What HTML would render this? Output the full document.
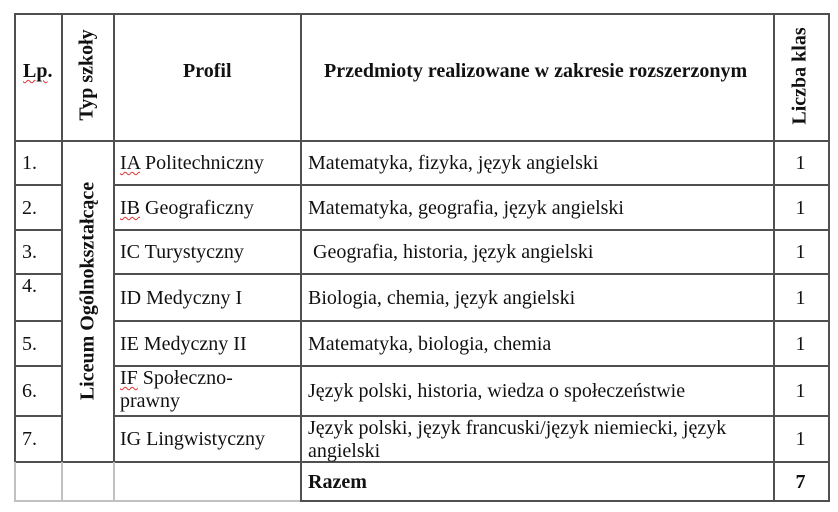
<!DOCTYPE html>
<html><head><meta charset="utf-8"><style>
body{margin:0;background:#fff;width:838px;height:512px;overflow:hidden;position:relative;font-family:"Liberation Serif",serif;font-size:20px;color:#111}
.h{position:absolute;height:2px;background:#505050}
.v{position:absolute;width:2px;background:#505050}
.lg{background:#c0c0c0}
.t{position:absolute;white-space:nowrap;line-height:22px}
.b{font-weight:bold}
.r{position:absolute;transform:translate(-50%,-50%) rotate(-90deg);white-space:nowrap;font-weight:bold}
.sq{text-decoration:underline wavy #d33;text-decoration-thickness:1px;text-underline-offset:2px}
.c{position:absolute;width:55px;text-align:center;left:773px;line-height:22px}
</style></head><body>
<div class="h" style="left:14px;top:13px;width:816px"></div>
<div class="h" style="left:14px;top:140px;width:816px"></div>
<div class="h" style="left:14px;top:184px;width:48px"></div>
<div class="h" style="left:113px;top:184px;width:717px"></div>
<div class="h" style="left:14px;top:229px;width:48px"></div>
<div class="h" style="left:113px;top:229px;width:717px"></div>
<div class="h" style="left:14px;top:273px;width:48px"></div>
<div class="h" style="left:113px;top:273px;width:717px"></div>
<div class="h" style="left:14px;top:320px;width:48px"></div>
<div class="h" style="left:113px;top:320px;width:717px"></div>
<div class="h" style="left:14px;top:365px;width:48px"></div>
<div class="h" style="left:113px;top:365px;width:717px"></div>
<div class="h" style="left:14px;top:415px;width:48px"></div>
<div class="h" style="left:113px;top:415px;width:717px"></div>
<div class="h" style="left:14px;top:461px;width:816px"></div>
<div class="h lg" style="left:14px;top:500px;width:287px"></div>
<div class="h" style="left:300px;top:500px;width:530px"></div>
<div class="v" style="left:14px;top:13px;height:449px"></div>
<div class="v" style="left:61px;top:13px;height:449px"></div>
<div class="v" style="left:113px;top:13px;height:449px"></div>
<div class="v" style="left:300px;top:13px;height:489px"></div>
<div class="v" style="left:773px;top:13px;height:489px"></div>
<div class="v" style="left:828px;top:13px;height:489px"></div>
<div class="v lg" style="left:14px;top:462px;height:40px"></div>
<div class="v lg" style="left:61px;top:462px;height:40px"></div>
<div class="v lg" style="left:113px;top:462px;height:40px"></div>

<div class="t b" style="left:23px;top:60px"><span class="sq">Lp</span>.</div>
<div class="r" style="left:87px;top:75px">Typ szkoły</div>
<div class="t b" style="left:183px;top:60px">Profil</div>
<div class="t b" style="left:324px;top:60px">Przedmioty realizowane w zakresie rozszerzonym</div>
<div class="r" style="left:800px;top:76px">Liczba klas</div>
<div class="r" style="left:88px;top:291px;font-size:20px">Liceum Ogólnokształcące</div>

<div class="t" style="left:22px;top:152px">1.</div>
<div class="t" style="left:120px;top:152px"><span class="sq">IA</span> Politechniczny</div>
<div class="t" style="left:308px;top:152px">Matematyka, fizyka, język angielski</div>
<div class="c" style="top:152px">1</div>

<div class="t" style="left:22px;top:197px">2.</div>
<div class="t" style="left:120px;top:197px"><span class="sq">IB</span> Geograficzny</div>
<div class="t" style="left:308px;top:197px">Matematyka, geografia, język angielski</div>
<div class="c" style="top:197px">1</div>

<div class="t" style="left:22px;top:241px">3.</div>
<div class="t" style="left:120px;top:241px">IC Turystyczny</div>
<div class="t" style="left:313px;top:241px">Geografia, historia, język angielski</div>
<div class="c" style="top:241px">1</div>

<div class="t" style="left:22px;top:275px">4.</div>
<div class="t" style="left:120px;top:287px">ID Medyczny I</div>
<div class="t" style="left:308px;top:287px">Biologia, chemia, język angielski</div>
<div class="c" style="top:287px">1</div>

<div class="t" style="left:22px;top:333px">5.</div>
<div class="t" style="left:120px;top:333px">IE Medyczny II</div>
<div class="t" style="left:308px;top:333px">Matematyka, biologia, chemia</div>
<div class="c" style="top:333px">1</div>

<div class="t" style="left:22px;top:380px">6.</div>
<div class="t" style="left:120px;top:367px;line-height:23px"><span class="sq">IF</span> Społeczno-<br>prawny</div>
<div class="t" style="left:308px;top:380px">Język polski, historia, wiedza o społeczeństwie</div>
<div class="c" style="top:380px">1</div>

<div class="t" style="left:22px;top:428px">7.</div>
<div class="t" style="left:120px;top:428px">IG Lingwistyczny</div>
<div class="t" style="left:308px;top:417px;line-height:23px">Język polski, język francuski/język niemiecki, język<br>angielski</div>
<div class="c" style="top:428px">1</div>

<div class="t b" style="left:308px;top:471px">Razem</div>
<div class="c b" style="top:471px">7</div>
</body></html>
